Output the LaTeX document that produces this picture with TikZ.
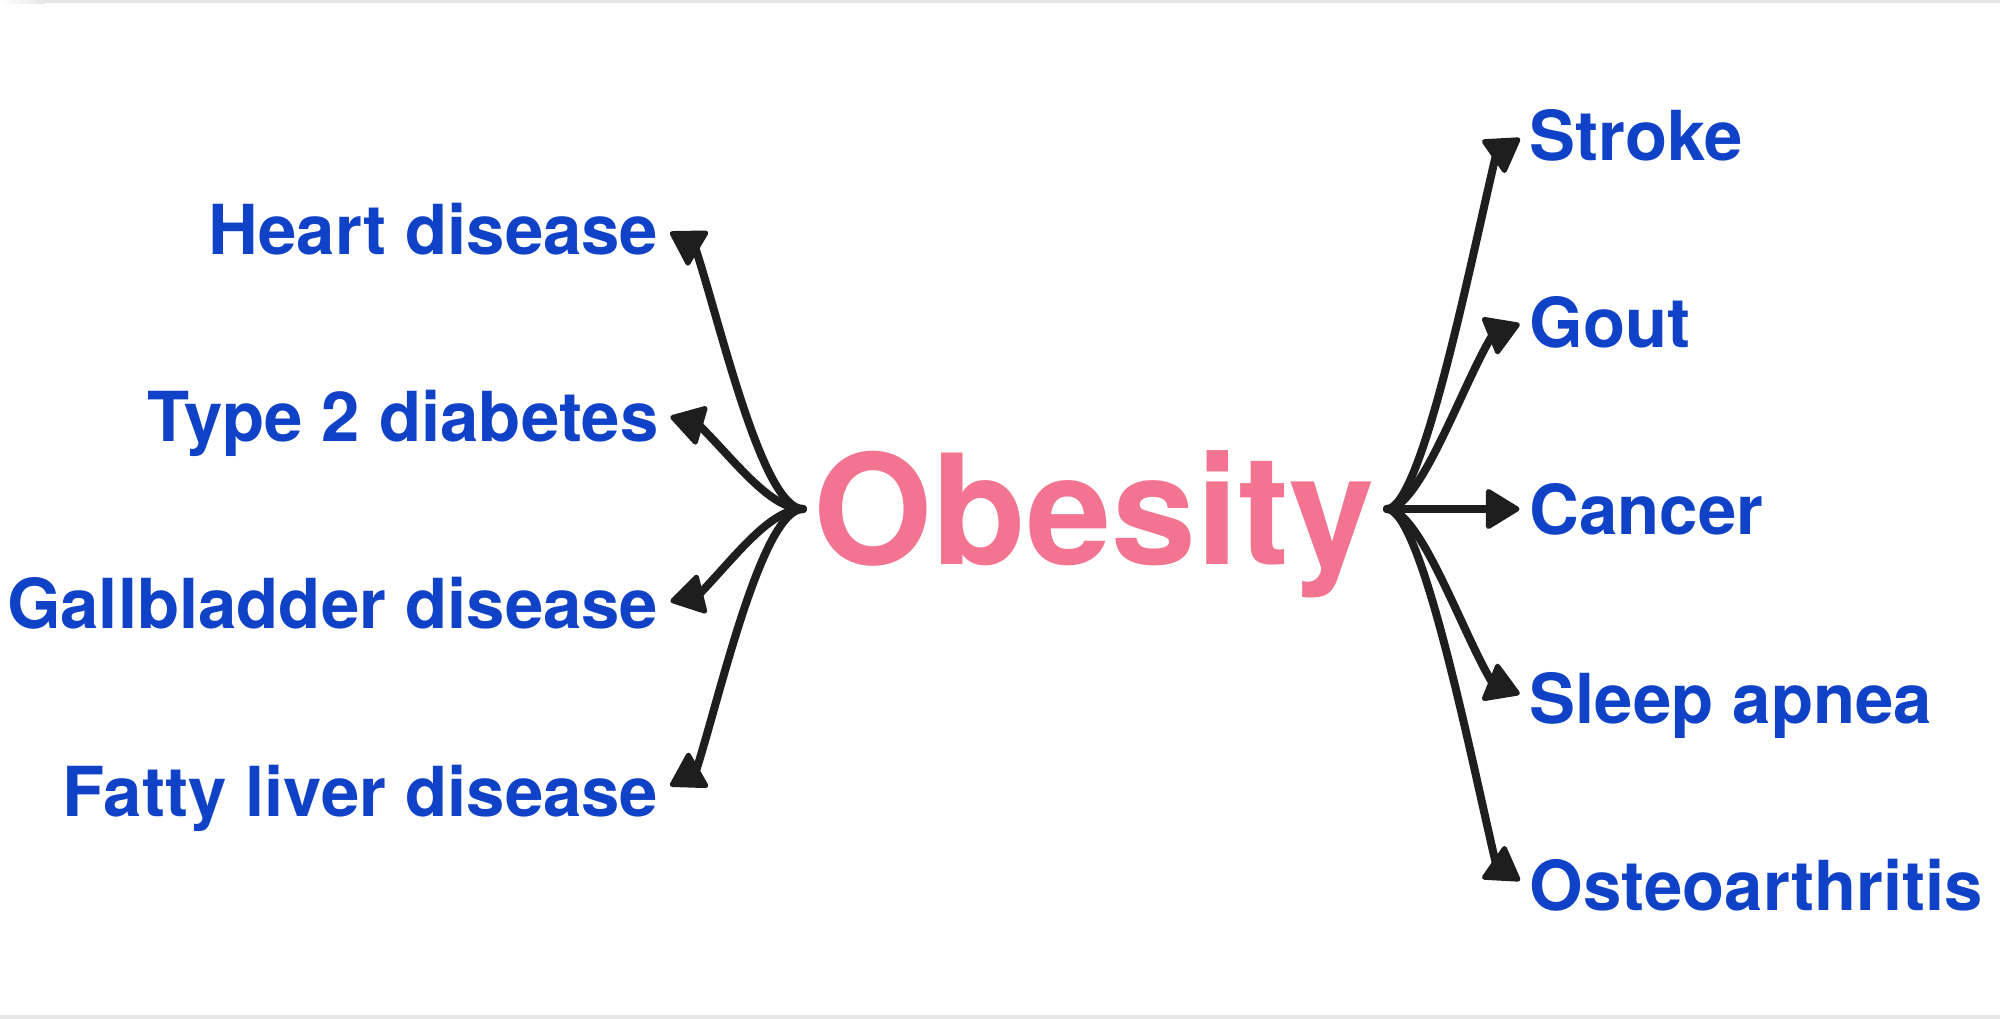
\documentclass[tikz,border=0pt]{standalone}
\usepackage{fontspec}
\setmainfont{TeX Gyre Heros}
\usetikzlibrary{calc}
\definecolor{pinkob}{HTML}{F37490}
\definecolor{bluelab}{HTML}{1042C8}
\definecolor{ink}{HTML}{1E1E1E}
\definecolor{rule}{HTML}{E6E6E6}
\tikzset{
  lab/.style={inner sep=0pt, text=bluelab, font=\fontsize{19.6pt}{22pt}\selectfont\bfseries},
  hubtext/.style={inner sep=0pt, text=pinkob, font=\fontsize{43.5pt}{48pt}\selectfont\bfseries},
  conn/.style={draw=ink, line width=0.08cm, line cap=round, line join=round},
  head/.style={fill=ink, draw=ink, line width=0.05cm, line join=round},
}
\begin{document}
\begin{tikzpicture}[x=0.01cm, y=-0.01cm]
\useasboundingbox (0,0) rectangle (2000,1019);
\fill[white] (0,0) rectangle (2000,1019);
% frame edges
\shade[left color=white, right color=rule] (0,0) rectangle (45,3.5);
\fill[rule] (45,0) rectangle (2000,3.5);
\fill[rule] (0,1015) rectangle (2000,1019);

% central node
\node[hubtext, anchor=base west] (ob) at (813,565) {Obesity};
\coordinate (hubL) at (803,509);
\coordinate (hubR) at (1387,509);

% left labels
\node[lab, anchor=base east] (heart) at (659,255) {Heart disease};
\node[lab, anchor=base east] (diab)  at (659,442) {Type 2 diabetes};
\node[lab, anchor=base east] (gall)  at (659,629) {Gallbladder disease};
\node[lab, anchor=base east] (fatty) at (659,816) {Fatty liver disease};
% right labels
\node[lab, anchor=base west] (stroke) at (1529,161) {Stroke};
\node[lab, anchor=base west] (gout)   at (1529,348) {Gout};
\node[lab, anchor=base west] (cancer) at (1529,535) {Cancer};
\node[lab, anchor=base west] (sleep)  at (1529,723) {Sleep apnea};
\node[lab, anchor=base west] (osteo)  at (1529,910) {Osteoarthritis};

% arrow tips and arrowhead bases
\coordinate (tHeart) at (668,231);  \coordinate (bHeart) at (695,247);
\coordinate (tDiab)  at (668,416);  \coordinate (bDiab)  at (699,425);
\coordinate (tGall)  at (668,602);  \coordinate (bGall)  at (699,594.5);
\coordinate (tFatty) at (668,787);  \coordinate (bFatty) at (696,771);
\coordinate (tStroke) at (1522,137); \coordinate (bStroke) at (1496,155);
\coordinate (tGout)   at (1522,323); \coordinate (bGout)   at (1492.5,335);
\coordinate (tCancer) at (1522,509); \coordinate (bCancer) at (1490,509);
\coordinate (tSleep)  at (1522,695); \coordinate (bSleep)  at (1492.5,683);
\coordinate (tOsteo)  at (1522,882); \coordinate (bOsteo)  at (1496,864);

% connectors
\draw[conn] (hubL) .. controls (762,509) and (720,322) .. (bHeart);
\draw[conn] (hubL) .. controls (770,509) and (736,462) .. (bDiab);
\draw[conn] (hubL) .. controls (770,509) and (736,556) .. (bGall);
\draw[conn] (hubL) .. controls (762,509) and (720,696) .. (bFatty);

\draw[conn] (hubR) .. controls (1422,509) and (1472,255) .. (bStroke);
\draw[conn] (hubR) .. controls (1420,509) and (1462,385) .. (bGout);
\draw[conn] (hubR) -- (bCancer);
\draw[conn] (hubR) .. controls (1420,509) and (1462,633) .. (bSleep);
\draw[conn] (hubR) .. controls (1422,509) and (1472,763) .. (bOsteo);

% arrowheads
\foreach \t/\b in {tHeart/bHeart, tDiab/bDiab, tGall/bGall, tFatty/bFatty,
                   tStroke/bStroke, tGout/bGout, tCancer/bCancer, tSleep/bSleep, tOsteo/bOsteo} {
  \coordinate (ti) at ($(\t)!0.05cm!(\b)$);
  \coordinate (bi) at ($(\t)!0.335cm!(\b)$);
  \filldraw[head] (ti) -- ($(bi)!0.175cm!90:(\t)$) -- ($(bi)!0.175cm!-90:(\t)$) -- cycle;
}
\end{tikzpicture}
\end{document}
